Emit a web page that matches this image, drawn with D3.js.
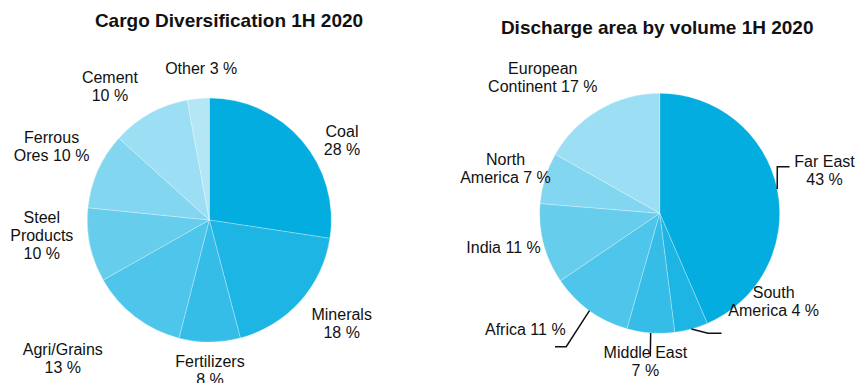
<!DOCTYPE html>
<html>
<head>
<meta charset="utf-8">
<script src="https://cdn.jsdelivr.net/npm/d3@7"></script>
<style>
  body { margin: 0; background: #fff; }
  text { font-family: "Liberation Sans", Arial, sans-serif; fill: #111; }
  .title { font-weight: bold; font-size: 19px; }
  .lbl { font-size: 16px; }
</style>
</head>
<body>
<div id="chart"></div>
<script>
// Data
var cargoNames = ["Coal", "Minerals", "Fertilizers", "Agri/Grains", "Steel Products", "Ferrous Ores", "Cement", "Other"];
var cargoValues = [27.4, 18.5, 8.1, 12.8, 9.8, 10.1, 10.4, 2.9];
var cargoLabels = [["Coal", "28 %"], ["Minerals", "18 %"], ["Fertilizers", "8 %"], ["Agri/Grains", "13 %"],
  ["Steel", "Products", "10 %"], ["Ferrous", "Ores 10 %"], ["Cement", "10 %"], ["Other 3 %"]];

var areaNames = ["Far East", "South America", "Middle East", "Africa", "India", "North America", "European Continent"];
var areaValues = [43.5, 4.5, 6.4, 11.1, 10.8, 6.9, 16.8];
var areaLabels = [["Far East", "43 %"], ["South", "America 4 %"], ["Middle East", "7 %"], ["Africa 11 %"],
  ["India 11 %"], ["North", "America 7 %"], ["European", "Continent 17 %"]];

var colors = ["#04ade0", "#1cb5e4", "#36bde7", "#4ec5ea", "#67cdec", "#82d6f0", "#9cdef3", "#b4e6f6"];

var svgWidth = 856;
var svgHeight = 383;
var lineH = 18;

var svg = d3.select("#chart")
  .append("svg")
  .attr("width", svgWidth)
  .attr("height", svgHeight);

// label anchors (center x, first baseline y) and leader elbows
var cargoLayout = {
  "Coal": [342, 136.7], "Minerals": [341.7, 320], "Fertilizers": [210, 366.7], "Agri/Grains": [62.8, 355],
  "Steel Products": [41.8, 223], "Ferrous Ores": [51.6, 142.7], "Cement": [109.9, 83.3], "Other": [201.2, 74]
};
var areaLayout = {
  "Far East": [824.5, 166.7], "South America": [773.7, 298.3], "Middle East": [645.4, 358.3], "Africa": [525.3, 335],
  "India": [503.5, 253.3], "North America": [505.5, 165], "European Continent": [542.8, 74]
};
var areaLeaders = {
  "Far East": [[777.3, 166.7], [789.5, 166.7]],
  "South America": [[708, 333.3], [721.5, 333.3]],
  "Middle East": [[650.3, 356.5]],
  "Africa": [[566.2, 346.7], [555, 346.7]]
};

function drawPie(opts) {
  var g = svg.append("g")
    .attr("transform", `translate(${opts.cx}, ${opts.cy})`);

  var pie = d3.pie().sort(null).value(d => d.value);
  var arc = d3.arc().innerRadius(0).outerRadius(opts.r);
  var data = opts.names.map((n, i) => ({ name: n, value: opts.values[i], label: opts.labels[i] }));
  var arcs = pie(data);

  g.selectAll("path")
    .data(arcs)
    .enter()
    .append("path")
    .attr("d", arc)
    .attr("fill", (d, i) => colors[i])
    .attr("stroke", "rgba(255,255,255,0.45)")
    .attr("stroke-width", 0.6);

  // leader lines, starting on the rim at the slice's middle angle
  var edge = d3.arc().innerRadius(opts.r).outerRadius(opts.r);
  arcs.forEach(function(d) {
    var pts = opts.leaders && opts.leaders[d.data.name];
    if (!pts) return;
    var c = edge.centroid(d);
    var p = [[c[0] + opts.cx, c[1] + opts.cy]].concat(pts);
    svg.append("path")
      .attr("d", d3.line()(p))
      .attr("fill", "none")
      .attr("stroke", "#111")
      .attr("stroke-width", 1.5);
  });

  // labels
  arcs.forEach(function(d) {
    var pos = opts.layout[d.data.name];
    var t = svg.append("text")
      .attr("class", "lbl")
      .attr("text-anchor", "middle")
      .attr("x", pos[0])
      .attr("y", pos[1]);
    d.data.label.forEach(function(line, i) {
      t.append("tspan")
        .attr("x", pos[0])
        .attr("y", pos[1] + i * lineH)
        .text(line);
    });
  });

  svg.append("text")
    .attr("class", "title")
    .attr("text-anchor", "middle")
    .attr("x", opts.tx)
    .attr("y", opts.ty)
    .text(opts.title);
}

drawPie({
  cx: 209.3, cy: 220, r: 122,
  names: cargoNames, values: cargoValues, labels: cargoLabels,
  layout: cargoLayout, leaders: null,
  title: "Cargo Diversification 1H 2020", tx: 229, ty: 27.3
});

drawPie({
  cx: 659.7, cy: 213.3, r: 120,
  names: areaNames, values: areaValues, labels: areaLabels,
  layout: areaLayout, leaders: areaLeaders,
  title: "Discharge area by volume 1H 2020", tx: 657.2, ty: 34
});
</script>
</body>
</html>
